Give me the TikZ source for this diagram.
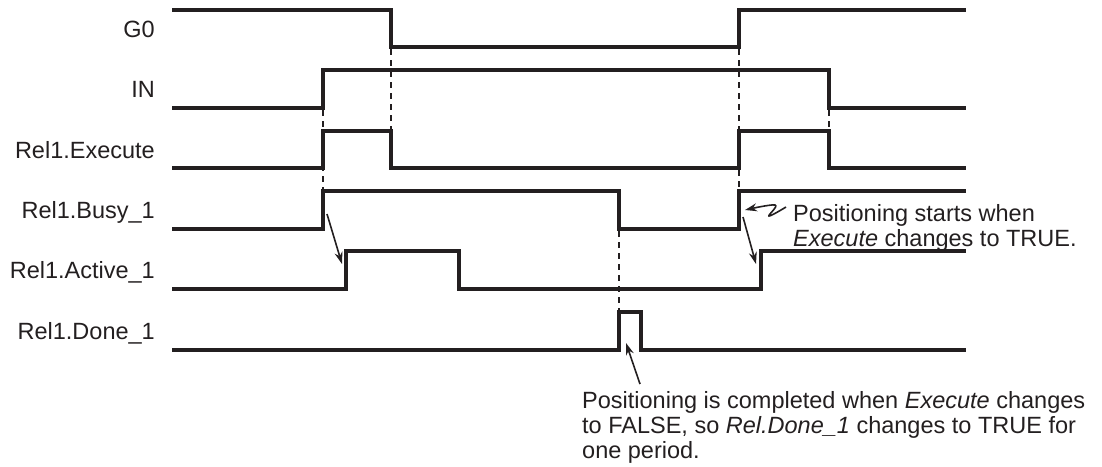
\documentclass[tikz,border=0pt]{standalone}
\usepackage{fontspec}
\setmainfont{Liberation Sans}
\usetikzlibrary{arrows.meta}
\definecolor{ink}{HTML}{231F20}
\tikzset{
  wave/.style={draw=ink, line width=3.1pt, line join=miter, line cap=butt},
  guide/.style={draw=ink, line width=1.3pt, dash pattern=on 6pt off 5pt},
  pointer/.style={draw=ink, line width=1.6pt, -{Stealth[length=12pt,width=8pt]}},
  siglabel/.style={anchor=base east, inner sep=0pt, text=ink, font=\fontsize{23.5}{25.5}\selectfont},
  note/.style={anchor=base west, inner sep=0pt, text=ink, align=left, font=\fontsize{23.5}{25}\selectfont}
}
\begin{document}
\begin{tikzpicture}[x=1pt,y=-1pt]
\useasboundingbox (0,0) rectangle (1102,466);
% labels
\node[siglabel] (lg0) at (155,37) {G0};
\node[siglabel] (lin) at (155,97.5) {IN};
\node[siglabel] (lex) at (155,158) {Rel1.Execute};
\node[siglabel] (lbu) at (155,218.5) {Rel1.Busy\_1};
\node[siglabel] (lac) at (155,278.5) {Rel1.Active\_1};
\node[siglabel] (ldo) at (155,339.5) {Rel1.Done\_1};
% waveforms
\draw[wave] (172,10) -- (391,10) -- (391,47) -- (739,47) -- (739,10) -- (966,10);
\draw[wave] (172,108) -- (323,108) -- (323,70) -- (829,70) -- (829,108) -- (966,108);
\draw[wave] (172,168) -- (323,168) -- (323,131) -- (391,131) -- (391,168) -- (739,168) -- (739,131) -- (829,131) -- (829,168) -- (966,168);
\draw[wave] (172,229) -- (323,229) -- (323,191) -- (619,191) -- (619,229) -- (739,229) -- (739,191) -- (966,191);
\draw[wave] (172,289) -- (346,289) -- (346,251) -- (459,251) -- (459,289) -- (761,289) -- (761,251) -- (966,251);
\draw[wave] (172,350) -- (619,350) -- (619,312) -- (641,312) -- (641,350) -- (966,350);
% dashed guides
\draw[guide] (391,49) -- (391,129);
\draw[guide] (323,110) -- (323,189);
\draw[guide] (739,49) -- (739,189);
\draw[guide] (829,110) -- (829,129);
\draw[guide] (619,231) -- (619,310);
% annotation arrows
\coordinate (a1s) at (327,214);
\coordinate (a1e) at (342,264);
\draw[pointer] (a1s) -- (a1e);
\coordinate (a2s) at (743,217);
\coordinate (a2e) at (756,264);
\draw[pointer] (a2s) -- (a2e);
\draw[pointer] plot[smooth, tension=0.6] coordinates {(786,207) (769,216) (775,205) (745,210)};
\coordinate (a3s) at (640,384);
\coordinate (a3e) at (626,343);
\draw[pointer] (a3s) -- (a3e);
% notes
\node[note] (n1) at (793,246) {Positioning starts when\\\textit{Execute} changes to TRUE.};
\node[note] (n2) at (582,458) {Positioning is completed when \textit{Execute} changes\\to FALSE, so \textit{Rel.Done\_1} changes to TRUE for\\one period.};
\end{tikzpicture}
\end{document}
